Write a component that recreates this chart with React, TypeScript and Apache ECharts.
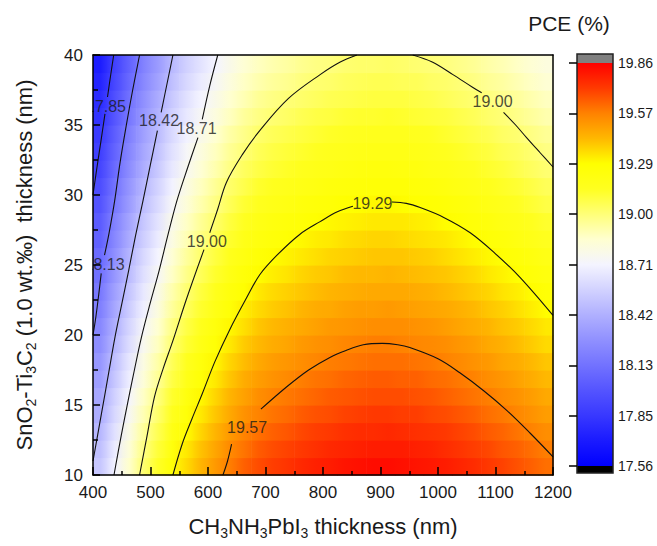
import React, { useEffect, useRef } from 'react';
import * as echarts from 'echarts';

// ---- grid of PCE values (cell centres) ----
const cellX = [412.5, 437.5, 462.5, 487.5, 512.5, 537.5, 562.5, 587.5, 612.5, 637.5, 662.5, 687.5, 712.5, 737.5, 762.5, 787.5,
  812.5, 837.5, 862.5, 887.5, 912.5, 937.5, 962.5, 987.5, 1012.5, 1037.5, 1062.5, 1087.5, 1112.5, 1137.5, 1162.5, 1187.5];
const cellY = [10.625, 11.875, 13.125, 14.375, 15.625, 16.875, 18.125, 19.375, 20.625, 21.875, 23.125, 24.375,
  25.625, 26.875, 28.125, 29.375, 30.625, 31.875, 33.125, 34.375, 35.625, 36.875, 38.125, 39.375];

const pceY10_625 = [18.52, 18.70, 18.86, 19.01, 19.13, 19.26, 19.36, 19.44, 19.51, 19.58, 19.64, 19.68, 19.71, 19.73, 19.76, 19.78, 19.79, 19.81, 19.82, 19.83, 19.83, 19.82, 19.81, 19.80, 19.79, 19.77, 19.75, 19.72, 19.70, 19.67, 19.64, 19.61];
const pceY11_875 = [18.49, 18.67, 18.83, 18.98, 19.10, 19.23, 19.33, 19.41, 19.48, 19.55, 19.60, 19.65, 19.68, 19.70, 19.72, 19.74, 19.76, 19.77, 19.78, 19.79, 19.79, 19.79, 19.78, 19.77, 19.75, 19.73, 19.71, 19.69, 19.66, 19.64, 19.61, 19.58];
const pceY13_125 = [18.45, 18.63, 18.79, 18.94, 19.06, 19.19, 19.29, 19.37, 19.44, 19.51, 19.57, 19.61, 19.64, 19.66, 19.69, 19.71, 19.72, 19.74, 19.75, 19.75, 19.76, 19.75, 19.74, 19.73, 19.72, 19.70, 19.68, 19.65, 19.63, 19.60, 19.57, 19.54];
const pceY14_375 = [18.41, 18.59, 18.75, 18.90, 19.02, 19.15, 19.25, 19.33, 19.40, 19.47, 19.53, 19.57, 19.60, 19.62, 19.65, 19.67, 19.68, 19.70, 19.71, 19.72, 19.72, 19.71, 19.71, 19.69, 19.68, 19.66, 19.64, 19.61, 19.59, 19.56, 19.53, 19.50];
const pceY15_625 = [18.38, 18.56, 18.72, 18.87, 18.99, 19.12, 19.22, 19.30, 19.37, 19.44, 19.49, 19.54, 19.57, 19.59, 19.61, 19.63, 19.65, 19.66, 19.67, 19.68, 19.68, 19.68, 19.67, 19.66, 19.64, 19.62, 19.60, 19.58, 19.55, 19.53, 19.50, 19.47];
const pceY16_875 = [18.34, 18.52, 18.68, 18.83, 18.95, 19.08, 19.18, 19.26, 19.33, 19.40, 19.46, 19.50, 19.53, 19.55, 19.58, 19.60, 19.61, 19.63, 19.64, 19.65, 19.65, 19.64, 19.64, 19.62, 19.61, 19.59, 19.57, 19.54, 19.52, 19.49, 19.46, 19.43];
const pceY18_125 = [18.31, 18.49, 18.65, 18.80, 18.92, 19.05, 19.15, 19.23, 19.30, 19.37, 19.42, 19.47, 19.50, 19.52, 19.54, 19.56, 19.58, 19.59, 19.60, 19.61, 19.61, 19.61, 19.60, 19.59, 19.57, 19.55, 19.53, 19.51, 19.48, 19.46, 19.43, 19.40];
const pceY19_375 = [18.27, 18.45, 18.61, 18.76, 18.88, 19.01, 19.11, 19.19, 19.26, 19.33, 19.39, 19.43, 19.46, 19.48, 19.51, 19.53, 19.54, 19.56, 19.57, 19.58, 19.58, 19.57, 19.56, 19.55, 19.54, 19.52, 19.50, 19.47, 19.45, 19.42, 19.39, 19.36];
const pceY20_625 = [18.24, 18.42, 18.58, 18.73, 18.85, 18.98, 19.08, 19.16, 19.23, 19.30, 19.35, 19.40, 19.43, 19.45, 19.47, 19.49, 19.51, 19.52, 19.53, 19.54, 19.54, 19.54, 19.53, 19.52, 19.50, 19.48, 19.46, 19.44, 19.41, 19.39, 19.36, 19.33];
const pceY21_875 = [18.20, 18.38, 18.54, 18.69, 18.81, 18.94, 19.04, 19.12, 19.19, 19.26, 19.32, 19.36, 19.39, 19.41, 19.44, 19.46, 19.47, 19.49, 19.50, 19.50, 19.51, 19.50, 19.49, 19.48, 19.47, 19.45, 19.43, 19.40, 19.38, 19.35, 19.32, 19.29];
const pceY23_125 = [18.17, 18.35, 18.51, 18.66, 18.78, 18.91, 19.01, 19.09, 19.16, 19.23, 19.28, 19.33, 19.36, 19.38, 19.40, 19.42, 19.44, 19.45, 19.46, 19.47, 19.47, 19.47, 19.46, 19.45, 19.43, 19.41, 19.39, 19.37, 19.34, 19.32, 19.29, 19.26];
const pceY24_375 = [18.13, 18.31, 18.47, 18.62, 18.74, 18.87, 18.97, 19.05, 19.12, 19.19, 19.25, 19.29, 19.32, 19.34, 19.37, 19.39, 19.40, 19.42, 19.43, 19.43, 19.44, 19.43, 19.42, 19.41, 19.40, 19.38, 19.36, 19.33, 19.31, 19.28, 19.25, 19.22];
const pceY25_625 = [18.10, 18.28, 18.44, 18.59, 18.71, 18.84, 18.94, 19.02, 19.09, 19.16, 19.21, 19.26, 19.29, 19.31, 19.33, 19.35, 19.37, 19.38, 19.39, 19.40, 19.40, 19.40, 19.39, 19.38, 19.36, 19.34, 19.32, 19.30, 19.27, 19.25, 19.22, 19.19];
const pceY26_875 = [18.06, 18.24, 18.40, 18.55, 18.67, 18.80, 18.90, 18.98, 19.05, 19.12, 19.18, 19.22, 19.25, 19.27, 19.30, 19.32, 19.33, 19.35, 19.36, 19.37, 19.37, 19.36, 19.35, 19.34, 19.33, 19.31, 19.29, 19.26, 19.24, 19.21, 19.18, 19.15];
const pceY28_125 = [18.03, 18.21, 18.37, 18.52, 18.64, 18.77, 18.87, 18.95, 19.02, 19.09, 19.14, 19.19, 19.22, 19.24, 19.26, 19.28, 19.30, 19.31, 19.32, 19.33, 19.33, 19.33, 19.32, 19.31, 19.29, 19.27, 19.25, 19.23, 19.20, 19.18, 19.15, 19.12];
const pceY29_375 = [17.99, 18.17, 18.33, 18.48, 18.60, 18.73, 18.83, 18.91, 18.98, 19.05, 19.11, 19.15, 19.18, 19.20, 19.23, 19.25, 19.26, 19.28, 19.29, 19.30, 19.30, 19.29, 19.28, 19.27, 19.26, 19.24, 19.22, 19.19, 19.17, 19.14, 19.11, 19.08];
const pceY30_625 = [17.96, 18.14, 18.30, 18.45, 18.57, 18.70, 18.80, 18.88, 18.95, 19.02, 19.07, 19.12, 19.15, 19.17, 19.19, 19.21, 19.23, 19.24, 19.25, 19.26, 19.26, 19.26, 19.25, 19.24, 19.22, 19.20, 19.18, 19.16, 19.13, 19.11, 19.08, 19.05];
const pceY31_875 = [17.92, 18.10, 18.26, 18.41, 18.53, 18.66, 18.76, 18.84, 18.91, 18.98, 19.04, 19.08, 19.11, 19.13, 19.16, 19.18, 19.19, 19.21, 19.22, 19.23, 19.23, 19.22, 19.22, 19.20, 19.19, 19.17, 19.15, 19.12, 19.10, 19.07, 19.04, 19.01];
const pceY33_125 = [17.89, 18.07, 18.23, 18.38, 18.50, 18.63, 18.73, 18.81, 18.88, 18.95, 19.00, 19.05, 19.08, 19.10, 19.12, 19.14, 19.16, 19.17, 19.18, 19.19, 19.19, 19.19, 19.18, 19.17, 19.15, 19.13, 19.11, 19.09, 19.06, 19.04, 19.01, 18.98];
const pceY34_375 = [17.86, 18.04, 18.20, 18.35, 18.47, 18.60, 18.70, 18.78, 18.85, 18.92, 18.97, 19.02, 19.05, 19.07, 19.09, 19.11, 19.13, 19.14, 19.15, 19.16, 19.16, 19.16, 19.15, 19.14, 19.12, 19.10, 19.08, 19.06, 19.03, 19.01, 18.98, 18.95];
const pceY35_625 = [17.82, 18.00, 18.16, 18.31, 18.43, 18.56, 18.66, 18.74, 18.81, 18.88, 18.94, 18.98, 19.01, 19.03, 19.06, 19.08, 19.09, 19.11, 19.12, 19.12, 19.13, 19.12, 19.11, 19.10, 19.09, 19.07, 19.05, 19.02, 19.00, 18.97, 18.94, 18.91];
const pceY36_875 = [17.79, 17.97, 18.13, 18.28, 18.40, 18.53, 18.63, 18.71, 18.78, 18.85, 18.90, 18.95, 18.98, 19.00, 19.02, 19.04, 19.06, 19.07, 19.08, 19.09, 19.09, 19.09, 19.08, 19.07, 19.05, 19.03, 19.01, 18.99, 18.96, 18.94, 18.91, 18.88];
const pceY38_125 = [17.75, 17.93, 18.09, 18.24, 18.36, 18.49, 18.59, 18.67, 18.74, 18.81, 18.87, 18.91, 18.94, 18.96, 18.99, 19.01, 19.02, 19.04, 19.05, 19.06, 19.06, 19.05, 19.05, 19.03, 19.02, 19.00, 18.98, 18.95, 18.93, 18.90, 18.87, 18.84];
const pceY39_375 = [17.72, 17.90, 18.06, 18.21, 18.33, 18.46, 18.56, 18.64, 18.71, 18.78, 18.84, 18.88, 18.91, 18.93, 18.96, 18.98, 18.99, 19.01, 19.02, 19.02, 19.03, 19.02, 19.01, 19.00, 18.99, 18.97, 18.95, 18.92, 18.90, 18.87, 18.84, 18.81];
const pceRows = [pceY10_625, pceY11_875, pceY13_125, pceY14_375, pceY15_625, pceY16_875, pceY18_125, pceY19_375,
  pceY20_625, pceY21_875, pceY23_125, pceY24_375, pceY25_625, pceY26_875, pceY28_125, pceY29_375,
  pceY30_625, pceY31_875, pceY33_125, pceY34_375, pceY35_625, pceY36_875, pceY38_125, pceY39_375];

// ---- contour lines (segments broken where the labels sit) ----
const contour17_85 = [
  [[436, 40], [430.5, 38.5], [425.2, 37.0]],
  [[420.8, 35.8], [414, 33.9], [407, 32.0], [402, 30.6], [400, 30.0]],
];
const contour18_13 = [
  [[481, 40], [469, 37.5], [458, 35], [447, 32.3], [437.7, 29.6], [428, 27.3], [420, 25.7]],
  [[414.3, 24.4], [410, 22.9], [405, 21.3], [400, 20.0]],
];
const contour18_42 = [
  [[539, 40], [529, 38], [518.5, 35.9]],
  [[512, 34.6], [500, 32.2], [487, 29.6], [474, 27.1], [462, 24.6], [450, 22.2], [438, 19.8], [429, 17.7], [420, 15.6], [410, 13.3], [400, 11.0]],
];
const contour18_71 = [
  [[617, 40], [603, 37.8], [590, 35.4]],
  [[582.5, 34.1], [565, 32.0], [546, 29.6], [530, 27.1], [515, 24.6], [499, 22.2], [484, 19.8], [472, 17.5], [461, 15.3], [449, 12.8], [436.5, 10]],
];
const contour19_00 = [
  [[481, 10], [494, 12.8], [507, 15.6], [522, 17.6], [539, 19.6], [562, 22.5], [593, 26.1]],
  [[603, 27.3], [617, 29.0], [632, 30.9], [660, 32.9], [690, 34.6], [740, 36.9], [795, 38.6], [830, 39.5], [859, 40]],
  [[956, 40], [990, 39.5], [1026, 38.6], [1060, 37.7], [1076, 37.3]],
  [[1114, 35.9], [1135, 35.0], [1154, 34.1], [1178, 33.0], [1200, 32.0]],
];
const contour19_29 = [
  [[539, 10], [555, 12.2], [572, 14.0], [590, 15.8], [612, 18.1], [638, 20.4], [665, 22.5], [690, 24.3], [720, 25.7], [760, 27.2], [795, 28.1], [825, 28.8], [852, 29.2]],
  [[920, 29.5], [945, 29.4], [969, 29.1], [1010, 28.4], [1056, 27.3], [1100, 25.8], [1143, 24.1], [1200, 21.4]],
];
const contour19_57 = [
  [[626, 10], [634, 11.0], [641, 12.2]],
  [[692, 14.7], [737, 16.3], [775, 17.5], [812, 18.4], [840, 18.9], [870, 19.3], [903, 19.4], [930, 19.3], [951, 19.1], [1000, 18.3], [1038, 17.3], [1080, 16.0], [1120, 14.6], [1160, 13.0], [1200, 11.3]],
];
const allContours = [contour17_85, contour18_13, contour18_42, contour18_71, contour19_00, contour19_29, contour19_57];

const labelTexts = ['17.85', '18.13', '18.42', '18.71', '19.00', '19.29', '19.00', '19.57'];
const labelX = [422.6, 420, 515, 580, 598, 886, 1095, 668];
const labelY = [36.35, 25.07, 35.3, 34.75, 26.7, 29.4, 36.7, 13.4];

// ---- colour scale ----
const colorbarLabels = ['17.56', '17.85', '18.13', '18.42', '18.71', '19.00', '19.29', '19.57', '19.86'];
const pceMin = 17.56;
const pceMax = 19.86;
const colorScale = ['#0000ff', '#1a1aff', '#3838ff', '#5454ff', '#7272ff', '#9090ff', '#b0b0ff', '#d2d2ff', '#f4f4ff',
  '#ffffd0', '#ffff78', '#ffff20', '#ffff00', '#ffb800', '#ff8200', '#ff3a00', '#ff0000'];

const FONT = '"Liberation Sans", Arial, Helvetica, sans-serif';
const TXT = '#1a1a1a';

const hexToRgb = (h: string) => [parseInt(h.slice(1, 3), 16), parseInt(h.slice(3, 5), 16), parseInt(h.slice(5, 7), 16)];
const scaleRgb = colorScale.map(hexToRgb);
const rgbOf = (v: number) => {
  const t = Math.min(1, Math.max(0, (v - pceMin) / (pceMax - pceMin))) * (scaleRgb.length - 1);
  const k = Math.min(scaleRgb.length - 2, Math.floor(t));
  const f = t - k;
  return scaleRgb[k].map((c, n) => c + (scaleRgb[k + 1][n] - c) * f);
};
const css = (c: number[]) => `rgb(${Math.round(c[0])},${Math.round(c[1])},${Math.round(c[2])})`;
const mix = (a: number[], b: number[]) => a.map((c, n) => (c + b[n]) / 2);

export default function App() {
  const ref = useRef<HTMLDivElement>(null);
  useEffect(() => {
    if (!ref.current) return;
    const chart = echarts.init(ref.current, null, { renderer: 'svg' });

    const cellData: number[][] = [];
    pceRows.forEach((row, j) => row.forEach((v, i) => cellData.push([cellX[i], cellY[j], v, i, j])));
    const halfW = (cellX[1] - cellX[0]) / 2;
    const halfH = (cellY[1] - cellY[0]) / 2;

    const lineSeries: any[] = [];
    allContours.forEach((segs) => {
      segs.forEach((seg) => {
        lineSeries.push({
          type: 'line', xAxisIndex: 0, yAxisIndex: 0, data: seg, smooth: 0.35,
          symbol: 'none', lineStyle: { color: '#111', width: 1.1 }, z: 3, silent: true,
        });
      });
    });

    const rich = (big: number, small: number, pad: number) => ({
      n: { fontSize: big, fontFamily: FONT, color: TXT, verticalAlign: 'middle' },
      s: { fontSize: small, fontFamily: FONT, color: TXT, padding: [pad, 0, 0, 0], verticalAlign: 'middle' },
    });

    const frameLine = { show: true, onZero: false, lineStyle: { color: '#000', width: 1.5 } };

    chart.setOption({
      animation: false,
      grid: [
        { left: 93, top: 55, width: 460, height: 420 },
        { left: 577, top: 63, width: 36, height: 403 },
      ],
      xAxis: [
        {
          type: 'value', gridIndex: 0, min: 400, max: 1200, interval: 100, position: 'bottom', z: 10,
          axisLine: frameLine,
          axisTick: { show: true, inside: true, length: 8, lineStyle: { color: '#000', width: 1.5 } },
          minorTick: { show: true, splitNumber: 2, length: 4, lineStyle: { color: '#000', width: 1.5 } },
          splitLine: { show: false },
          axisLabel: { fontSize: 17, fontFamily: FONT, color: TXT, margin: 9, formatter: (v: number) => String(v) },
          name: '{n|CH}{s|3}{n|NH}{s|3}{n|PbI}{s|3}{n| thickness (nm)}',
          nameLocation: 'middle', nameGap: 38,
          nameTextStyle: { fontSize: 22, fontFamily: FONT, color: TXT, rich: rich(22, 14, 13) },
        },
        {
          type: 'value', gridIndex: 0, min: 400, max: 1200, position: 'top', z: 10,
          axisLine: frameLine, axisTick: { show: false }, axisLabel: { show: false }, splitLine: { show: false },
        },
        { type: 'value', gridIndex: 1, min: 0, max: 1, show: false },
      ],
      yAxis: [
        {
          type: 'value', gridIndex: 0, min: 10, max: 40, interval: 5, position: 'left', z: 10,
          axisLine: frameLine,
          axisTick: { show: true, inside: true, length: 7, lineStyle: { color: '#000', width: 1.5 } },
          minorTick: { show: true, splitNumber: 2, length: 5, lineStyle: { color: '#000', width: 1.5 } },
          splitLine: { show: false },
          axisLabel: { fontSize: 17, fontFamily: FONT, color: TXT, margin: 10 },
          name: '{n|SnO}{s|2}{n|-Ti}{s|3}{n|C}{s|2}{n| (1.0 wt.‰)  thickness (nm)}',
          nameLocation: 'middle', nameGap: 55,
          nameTextStyle: { fontSize: 22, fontFamily: FONT, color: TXT, rich: rich(22, 14, 13) },
        },
        {
          type: 'value', gridIndex: 0, min: 10, max: 40, position: 'right', z: 10,
          axisLine: frameLine, axisTick: { show: false }, axisLabel: { show: false }, splitLine: { show: false },
        },
        {
          type: 'value', gridIndex: 1, min: 0, max: 8, interval: 1, position: 'right', z: 10,
          axisLine: { show: false },
          axisTick: { show: true, inside: true, length: 8, lineStyle: { color: '#000', width: 1.5 } },
          splitLine: { show: false },
          axisLabel: {
            fontSize: 14, fontFamily: FONT, color: TXT, margin: 5,
            formatter: (v: number) => colorbarLabels[Math.round(v)] ?? '',
          },
        },
      ],
      series: [
        {
          type: 'custom', xAxisIndex: 0, yAxisIndex: 0, data: cellData, silent: true, z: 1,
          encode: { x: 0, y: 1 },
          renderItem: (params: any, api: any) => {
            const i = api.value(3);
            const j = api.value(4);
            const xc = api.value(0);
            const yc = api.value(1);
            const row = pceRows[j];
            const v = row[i];
            const cC = rgbOf(v);
            const cL = mix(rgbOf(row[i - 1] ?? v), cC);
            const cR = mix(cC, rgbOf(row[i + 1] ?? v));
            const p0 = api.coord([xc - halfW, yc + halfH]);
            const p1 = api.coord([xc + halfW, yc - halfH]);
            return {
              type: 'rect',
              shape: { x: p0[0], y: p0[1], width: p1[0] - p0[0] + 0.6, height: p1[1] - p0[1] + 0.6 },
              style: {
                fill: {
                  type: 'linear', x: 0, y: 0, x2: 1, y2: 0,
                  colorStops: [
                    { offset: 0, color: css(cL) },
                    { offset: 0.5, color: css(cC) },
                    { offset: 1, color: css(cR) },
                  ],
                },
              },
            };
          },
        },
        ...lineSeries,
        {
          type: 'scatter', xAxisIndex: 0, yAxisIndex: 0, symbolSize: 1, z: 4, silent: true,
          itemStyle: { color: 'rgba(0,0,0,0)' },
          data: labelTexts.map((t, i) => ({ name: t, value: [labelX[i], labelY[i]] })),
          label: { show: true, position: 'inside', formatter: '{b}', fontSize: 16, fontFamily: FONT, color: TXT },
        },
      ],
      graphic: [
        { type: 'rect', z: 5, shape: { x: 84, y: 96, width: 8.3, height: 20 }, style: { fill: '#fff' } },
        { type: 'rect', z: 5, shape: { x: 84, y: 255, width: 8.3, height: 19 }, style: { fill: '#fff' } },
        { type: 'rect', z: 1, shape: { x: 577, y: 54, width: 36, height: 9 }, style: { fill: '#808080' } },
        {
          type: 'rect', z: 1, shape: { x: 577, y: 63, width: 36, height: 403 },
          style: {
            fill: new echarts.graphic.LinearGradient(0, 1, 0, 0,
              colorScale.map((c, i) => ({ offset: i / (colorScale.length - 1), color: c }))),
          },
        },
        { type: 'rect', z: 1, shape: { x: 577, y: 466, width: 36, height: 7 }, style: { fill: '#000' } },
        {
          type: 'rect', z: 2, shape: { x: 577, y: 54, width: 36, height: 419 },
          style: { fill: 'none', stroke: '#222', lineWidth: 1.5 },
        },
        {
          type: 'text', z: 2, x: 569, y: 23,
          style: { text: 'PCE (%)', fontSize: 21, fontFamily: FONT, fill: TXT, align: 'center', verticalAlign: 'middle' },
        },
      ],
    });
    return () => chart.dispose();
  }, []);
  return <div ref={ref} style={{ position: 'absolute', left: 0, top: 0, width: 657, height: 546, background: '#fff' }} />;
}
